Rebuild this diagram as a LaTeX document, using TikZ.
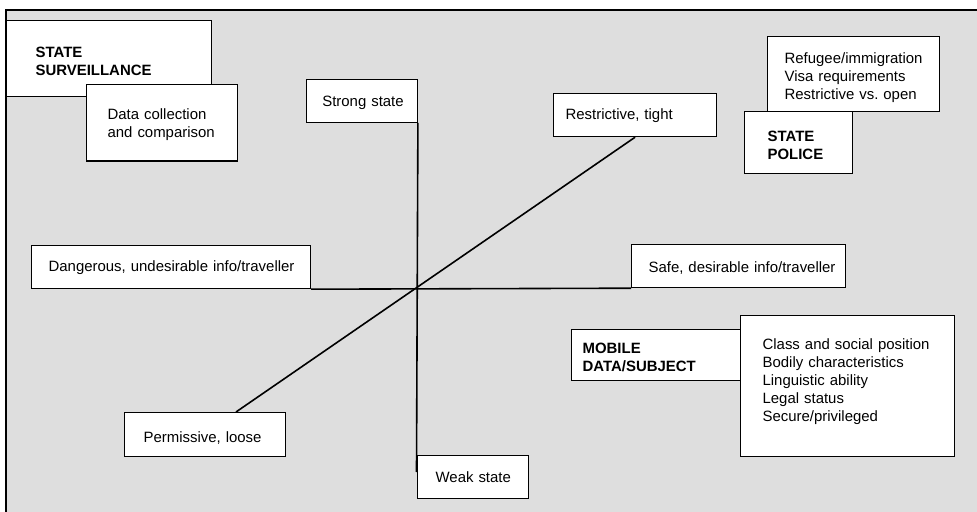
\documentclass[tikz,border=0pt]{standalone}
\usepackage{fontspec}
\setmainfont{Liberation Sans}
\definecolor{panelgray}{RGB}{222,222,222}
% labels are never hyphenated; over-long lines simply run on
\hyphenpenalty=10000
\exhyphenpenalty=10000
\begin{document}
\begin{tikzpicture}[x=1bp,y=-1bp,
  % tag={text width}{left margin}{height above baseline}{depth below baseline}
  tag/.style n args={4}{draw=black, line width=1.2bp, fill=white,
    anchor=north west, align=left, inner ysep=0pt,
    text width=#1bp, inner xsep=#2bp, text height=#3bp, text depth=#4bp,
    font=\fontsize{15}{18}\selectfont},
  heading/.style={font=\fontsize{15}{18}\selectfont\bfseries},
  axis/.style={line width=1.6bp, line cap=butt}]

\useasboundingbox (0,0) rectangle (977,512);

% grey panel, framed on its top and left sides
\fill[panelgray] (6,10) rectangle (977,512);
\draw[line width=1.3bp] (6,512) -- (6,10) -- (977,10);

% corner groups
\node[tag={147}{29}{37.3}{38.7}, heading] (surv) at (6,20) {STATE\\SURVEILLANCE};
\node[tag={109}{21}{34.7}{41.8}] (data) at (86,84) {Data~collection\\and~comparison};

\node[tag={62}{23}{30}{32}, heading] (police) at (744,111) {STATE\\POLICE};
\node[tag={138}{17}{26.7}{48.3}] (refugee) at (767,36)
  {Refugee/immigration\\Visa~requirements\\Restrictive~vs.~open};

\node[tag={168}{11}{24.3}{26.7}, heading] (mobile) at (571,329) {MOBILE\\DATA/SUBJECT};
\node[tag={170}{22}{33.7}{107.3}] (class) at (740,315)
  {Class~and~social~position\\Bodily~characteristics\\Linguistic~ability\\Legal~status\\Secure/privileged};

% axis end labels
\node[tag={79}{16}{26.5}{16.2}] (strong) at (305.7,79) {Strong~state};
\node[tag={74.5}{18.5}{26.7}{16.3}] (weak) at (416.5,455) {Weak~state};
\node[tag={245}{17}{26}{17}] (danger) at (31,245) {Dangerous,~undesirable~info/traveller};
\node[tag={180}{17}{27.7}{15.3}] (safe) at (631,244) {Safe,~desirable~info/traveller};
\node[tag={139}{12}{26}{16.7}] (restr) at (553,93.3) {Restrictive,~tight};
\node[tag={123}{19}{30.3}{13.7}] (perm) at (124,412) {Permissive,~loose};

% the three axes
\coordinate (vEnd) at (416.5,472);
\coordinate (dEnd) at (236,412);
\draw[axis] (strong.south east) -- (vEnd);
\draw[axis] (danger.south east) -- (safe.south west);
\draw[axis] (restr.south) -- (dEnd);

\end{tikzpicture}
\end{document}
